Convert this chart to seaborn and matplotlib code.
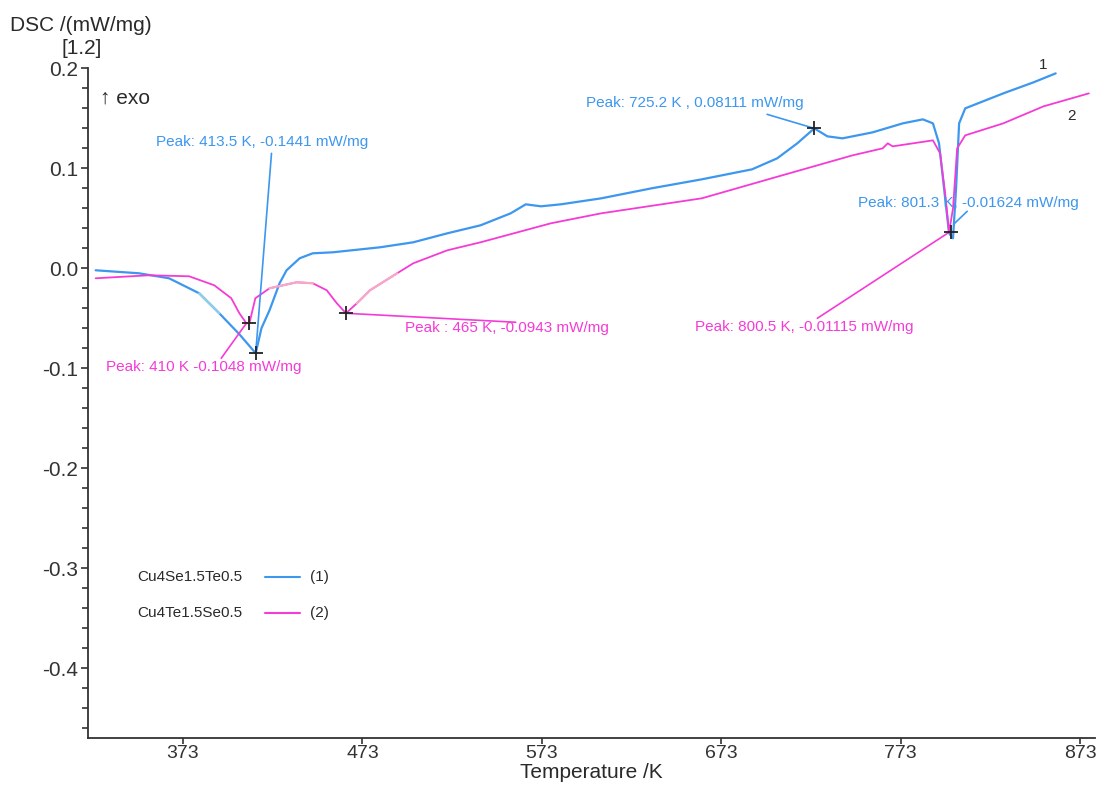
import matplotlib
matplotlib.use("Agg")
import matplotlib.pyplot as plt
import numpy as np
import pandas as pd
import seaborn as sns

# curve 1: Cu4Se1.5Te0.5
temp_1 = [324.3, 348.4, 365.2, 382.0, 393.2, 404.4, 413.5, 416.7, 421.2, 426.8, 430.7,
          438.0, 445.3, 456.5, 482.8, 501.3, 520.3, 538.8, 555.6, 564.0, 572.4, 583.6,
          606.1, 634.1, 662.1, 690.1, 704.1, 715.3, 724.8, 732.1, 740.5, 757.3, 774.1,
          785.3, 790.9, 794.3, 797.1, 799.9, 802.1, 803.8, 805.5, 808.9, 830.1, 846.9, 859.3]
dsc_1 = [-0.002, -0.005, -0.010, -0.025, -0.045, -0.066, -0.085, -0.060, -0.042, -0.015, -0.002,
         0.010, 0.015, 0.016, 0.021, 0.026, 0.035, 0.043, 0.055, 0.064, 0.062, 0.064,
         0.070, 0.080, 0.089, 0.099, 0.110, 0.125, 0.140, 0.132, 0.130, 0.136, 0.145,
         0.149, 0.145, 0.125, 0.080, 0.035, 0.030, 0.080, 0.145, 0.160, 0.175, 0.186, 0.195]

# curve 2: Cu4Te1.5Se0.5
temp_2 = [324.3, 354.0, 376.4, 390.4, 399.9, 404.4, 408.3, 410.0, 413.3, 421.2, 436.3,
          445.3, 453.1, 458.7, 463.8, 469.9, 477.2, 492.3, 501.3, 520.3, 538.8, 578.0,
          606.1, 662.1, 706.9, 746.1, 762.9, 765.7, 768.5, 790.9, 794.9, 797.7, 799.9,
          802.1, 804.4, 808.9, 830.1, 852.5, 877.8]
dsc_2 = [-0.010, -0.007, -0.008, -0.017, -0.030, -0.045, -0.055, -0.055, -0.030, -0.020, -0.014,
         -0.015, -0.022, -0.035, -0.045, -0.035, -0.022, -0.005, 0.005, 0.018, 0.026, 0.045,
         0.055, 0.070, 0.093, 0.113, 0.120, 0.125, 0.122, 0.128, 0.115, 0.075, 0.036,
         0.060, 0.120, 0.133, 0.145, 0.162, 0.175]

# peaks (plotted position) and their labels
peak_t_1 = [413.5, 724.8, 800.9]
peak_v_1 = [-0.085, 0.140, 0.036]
peak_t_2 = [409.5, 463.8]
peak_v_2 = [-0.055, -0.045]

labels_1 = ["Peak: 413.5 K, -0.1441 mW/mg", "Peak: 725.2 K , 0.08111 mW/mg",
            "Peak: 801.3 K, -0.01624 mW/mg"]
labels_2 = ["Peak: 410 K -0.1048 mW/mg", "Peak : 465 K, -0.0943 mW/mg",
            "Peak: 800.5 K, -0.01115 mW/mg"]

blue = "#3d97ee"
pink = "#f53bd6"
ink = "#2a2a2a"

sns.set_style("ticks")
plt.rcParams["font.family"] = ["Liberation Sans", "DejaVu Sans"]

fig = plt.figure(figsize=(10.99, 7.86), dpi=100)
ax = fig.add_axes([0.080, 0.061, 0.916, 0.852])

df1 = pd.DataFrame({"T": temp_1, "DSC": dsc_1})
df2 = pd.DataFrame({"T": temp_2, "DSC": dsc_2})

sns.lineplot(data=df1, x="T", y="DSC", color=blue, lw=1.6, estimator=None, ax=ax)
sns.lineplot(data=df2, x="T", y="DSC", color=pink, lw=1.3, estimator=None, ax=ax)

# lighter stretches of the traces
light1 = df1[(df1["T"] >= 376) & (df1["T"] <= 400)]
sns.lineplot(data=light1, x="T", y="DSC", color="#8fd0e6", lw=1.6, estimator=None, ax=ax)
for lo, hi in [(421, 453), (469, 501)]:
    seg = df2[(df2["T"] >= lo) & (df2["T"] <= hi)]
    sns.lineplot(data=seg, x="T", y="DSC", color="#f7a8c8", lw=1.6, estimator=None, ax=ax)

sns.scatterplot(x=peak_t_1 + peak_t_2, y=peak_v_1 + peak_v_2, marker="+", color="#222222",
                s=90, linewidth=1.3, ax=ax, zorder=5)

# leader lines and peak texts
leaders_1 = [((413.5, -0.085), (422.3, 0.115)), ((724.8, 0.140), (698.5, 0.154)),
             ((803.0, 0.045), (810.0, 0.057))]
leaders_2 = [((408.3, -0.055), (394.3, -0.090)), ((463.8, -0.045), (558.4, -0.054)),
             ((799.9, 0.036), (726.5, -0.050))]
text_pos_1 = [(357.9, 0.126), (597.6, 0.165), (748.9, 0.065)]
text_pos_2 = [(329.9, -0.099), (496.8, -0.060), (658.2, -0.059)]

for (p, q), (tx, ty), lab in zip(leaders_1, text_pos_1, labels_1):
    ax.plot([p[0], q[0]], [p[1], q[1]], color=blue, lw=1.2)
    ax.text(tx, ty, lab, color=blue, fontsize=11, ha="left", va="center")
for (p, q), (tx, ty), lab in zip(leaders_2, text_pos_2, labels_2):
    ax.plot([p[0], q[0]], [p[1], q[1]], color=pink, lw=1.2)
    ax.text(tx, ty, lab, color=pink, fontsize=11, ha="left", va="center")

ax.text(852.5, 0.203, "1", fontsize=11, color=ink, ha="center", va="center")
ax.text(868.2, 0.152, "2", fontsize=11, color=ink, ha="center", va="center")

# legend drawn as in the instrument software
ax.text(0.049, 0.240, "Cu4Se1.5Te0.5", transform=ax.transAxes, fontsize=11, va="center", color=ink)
ax.plot([0.176, 0.211], [0.240, 0.240], transform=ax.transAxes, color=blue, lw=1.5)
ax.text(0.221, 0.240, "(1)", transform=ax.transAxes, fontsize=11, va="center", color=ink)
ax.text(0.049, 0.187, "Cu4Te1.5Se0.5", transform=ax.transAxes, fontsize=11, va="center", color=ink)
ax.plot([0.176, 0.211], [0.187, 0.187], transform=ax.transAxes, color=pink, lw=1.5)
ax.text(0.221, 0.187, "(2)", transform=ax.transAxes, fontsize=11, va="center", color=ink)

ax.text(0.012, 0.955, "↑ exo", transform=ax.transAxes, fontsize=15, va="center", color=ink)

ax.set_xlim(320, 881)
ax.set_ylim(-0.47, 0.2)
ax.set_xticks([373, 473, 573, 673, 773, 873])
ax.set_yticks([-0.4, -0.3, -0.2, -0.1, 0.0, 0.1, 0.2])
ax.set_yticks(np.arange(-0.46, 0.2, 0.02), minor=True)
ax.set_yticklabels(["-0.4", "-0.3", "-0.2", "-0.1", "0.0", "0.1", "0.2"])
ax.tick_params(axis="y", labelsize=15, colors="#333333", length=5, width=1.2, pad=2)
ax.tick_params(axis="x", labelsize=14, colors="#333333", length=4, width=1.2, pad=1)
ax.tick_params(axis="y", which="minor", length=4, width=1.2, colors="#333333")
ax.set_xlabel("Temperature /K", fontsize=15, labelpad=1, color=ink)
ax.set_ylabel("")
for side in ["top", "right"]:
    ax.spines[side].set_visible(False)
for side in ["left", "bottom"]:
    ax.spines[side].set_linewidth(1.3)
    ax.spines[side].set_color("#333333")

fig.text(0.009, 0.968, "DSC /(mW/mg)", fontsize=15, va="center", color=ink)
fig.text(0.056, 0.938, "[1.2]", fontsize=15, va="center", color=ink)

fig.savefig("out.png", dpi=100)
